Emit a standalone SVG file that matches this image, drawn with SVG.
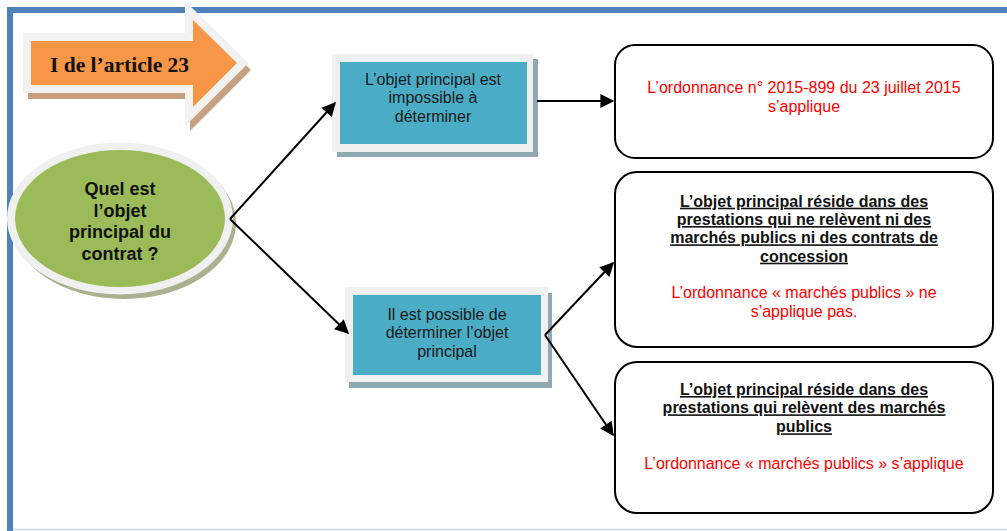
<svg xmlns="http://www.w3.org/2000/svg" width="1007" height="531" viewBox="0 0 1007 531">
<defs>
<style>
.frame{fill:#4F81BD}
.lbl{font-family:"Liberation Sans",Arial,sans-serif;font-size:16px;fill:#1A1A1A;text-anchor:middle}
.red{font-family:"Liberation Sans",Arial,sans-serif;font-size:16px;fill:#FF0000;text-anchor:middle}
.bu{font-family:"Liberation Sans",Arial,sans-serif;font-size:16px;font-weight:bold;fill:#111;text-anchor:middle;text-decoration:underline}
.q{font-family:"Liberation Sans",Arial,sans-serif;font-size:18px;font-weight:bold;fill:#111;text-anchor:middle}
.res{fill:#FFFFFF;stroke:#000;stroke-width:2}
.bluebox{fill:#4BACC6}
.whitebox{fill:#F0F0F0}
.bshadow{fill:#8FA9B2}
.conn{fill:none;stroke:#000;stroke-width:2}
</style>
<marker id="ah" viewBox="0 0 10 10" refX="9" refY="5" markerUnits="userSpaceOnUse" markerWidth="16" markerHeight="14" orient="auto">
<path d="M0,0 L10,5 L0,10 z" fill="#000"/>
</marker>
</defs>
<rect width="1007" height="531" fill="#FFFFFF"/>
<g id="frame">
<rect class="frame" x="7" y="7" width="6" height="524"/>
<rect class="frame" x="7" y="7" width="1000" height="6"/>
<line x1="13" y1="529.5" x2="1007" y2="529.5" stroke="#C6D6EB" stroke-width="1.5"/>
</g>
<g id="title-arrow">
<polygon points="31,41 193,41 193,20 237,63 193,107 193,85 31,85" transform="translate(4,7)" fill="#C9A07F" stroke="#C9A07F" stroke-width="14" stroke-linejoin="miter"/>
<polygon points="31,41 193,41 193,20 237,63 193,107 193,85 31,85" fill="#F2F2F2" stroke="#F2F2F2" stroke-width="16" stroke-linejoin="miter"/>
<polygon points="31,41 193,41 193,20 237,63 193,107 193,85 31,85" fill="#F79646"/>
<text x="50" y="72" font-family="'Liberation Serif','Times New Roman',serif" font-size="21.5" font-weight="bold" fill="#111">I de l’article 23</text>
</g>
<g id="question">
<ellipse cx="124" cy="223" rx="112" ry="76" fill="#A9B18E"/>
<ellipse cx="120" cy="218.5" rx="113" ry="76" fill="#F0F0F0"/>
<ellipse cx="120" cy="218.5" rx="105" ry="68.5" fill="#9BBB59"/>
<text class="q"><tspan x="120" y="195">Quel est</tspan><tspan x="120" y="216.7">l’objet</tspan><tspan x="120" y="238.3">principal du</tspan><tspan x="120" y="260">contrat ?</tspan></text>
</g>
<g id="box-impossible">
<rect class="bshadow" x="337" y="59" width="201" height="98"/>
<rect class="whitebox" x="332" y="54" width="201" height="98"/>
<rect class="bluebox" x="340" y="62" width="187" height="82"/>
<text class="lbl"><tspan x="433" y="85">L’objet principal est</tspan><tspan x="433" y="103.3">impossible à</tspan><tspan x="433" y="121.7">déterminer</tspan></text>
</g>
<g id="box-possible">
<rect class="bshadow" x="349" y="293" width="203" height="95"/>
<rect class="whitebox" x="345" y="287" width="203" height="95"/>
<rect class="bluebox" x="353" y="295" width="188" height="80"/>
<text class="lbl"><tspan x="447" y="320">Il est possible de</tspan><tspan x="447" y="338.3">déterminer l’objet</tspan><tspan x="447" y="357.3">principal</tspan></text>
</g>
<g id="result-ordonnance">
<rect class="res" x="615" y="45" width="378" height="113" rx="20" ry="20"/>
<text class="red"><tspan x="804" y="93">L’ordonnance n° 2015-899 du 23 juillet 2015</tspan><tspan x="804" y="112">s’applique</tspan></text>
</g>
<g id="result-hors">
<rect class="res" x="615" y="172" width="378" height="175" rx="22" ry="22"/>
<text class="bu"><tspan x="804" y="206.7">L’objet principal réside dans des</tspan><tspan x="804" y="225">prestations qui ne relèvent ni des</tspan><tspan x="804" y="243.3">marchés publics ni des contrats de</tspan><tspan x="804" y="261.7">concession</tspan></text>
<text class="red"><tspan x="804" y="298.3">L’ordonnance « marchés publics » ne</tspan><tspan x="804" y="316.7">s’applique pas.</tspan></text>
</g>
<g id="result-marches">
<rect class="res" x="615" y="362" width="378" height="151" rx="22" ry="22"/>
<text class="bu"><tspan x="804" y="395">L’objet principal réside dans des</tspan><tspan x="804" y="413.3">prestations qui relèvent des marchés</tspan><tspan x="804" y="432.3">publics</tspan></text>
<text class="red"><tspan x="804" y="469">L’ordonnance « marchés publics » s’applique</tspan></text>
</g>
<g id="connectors">
<path class="conn" d="M230,219 L335,103" marker-end="url(#ah)"/>
<path class="conn" d="M230,219 L348,333" marker-end="url(#ah)"/>
<path class="conn" d="M537,101 L613,101" marker-end="url(#ah)"/>
<path class="conn" d="M545,335 L613,263" marker-end="url(#ah)"/>
<path class="conn" d="M545,335 L613,435" marker-end="url(#ah)"/>
</g>
</svg>
